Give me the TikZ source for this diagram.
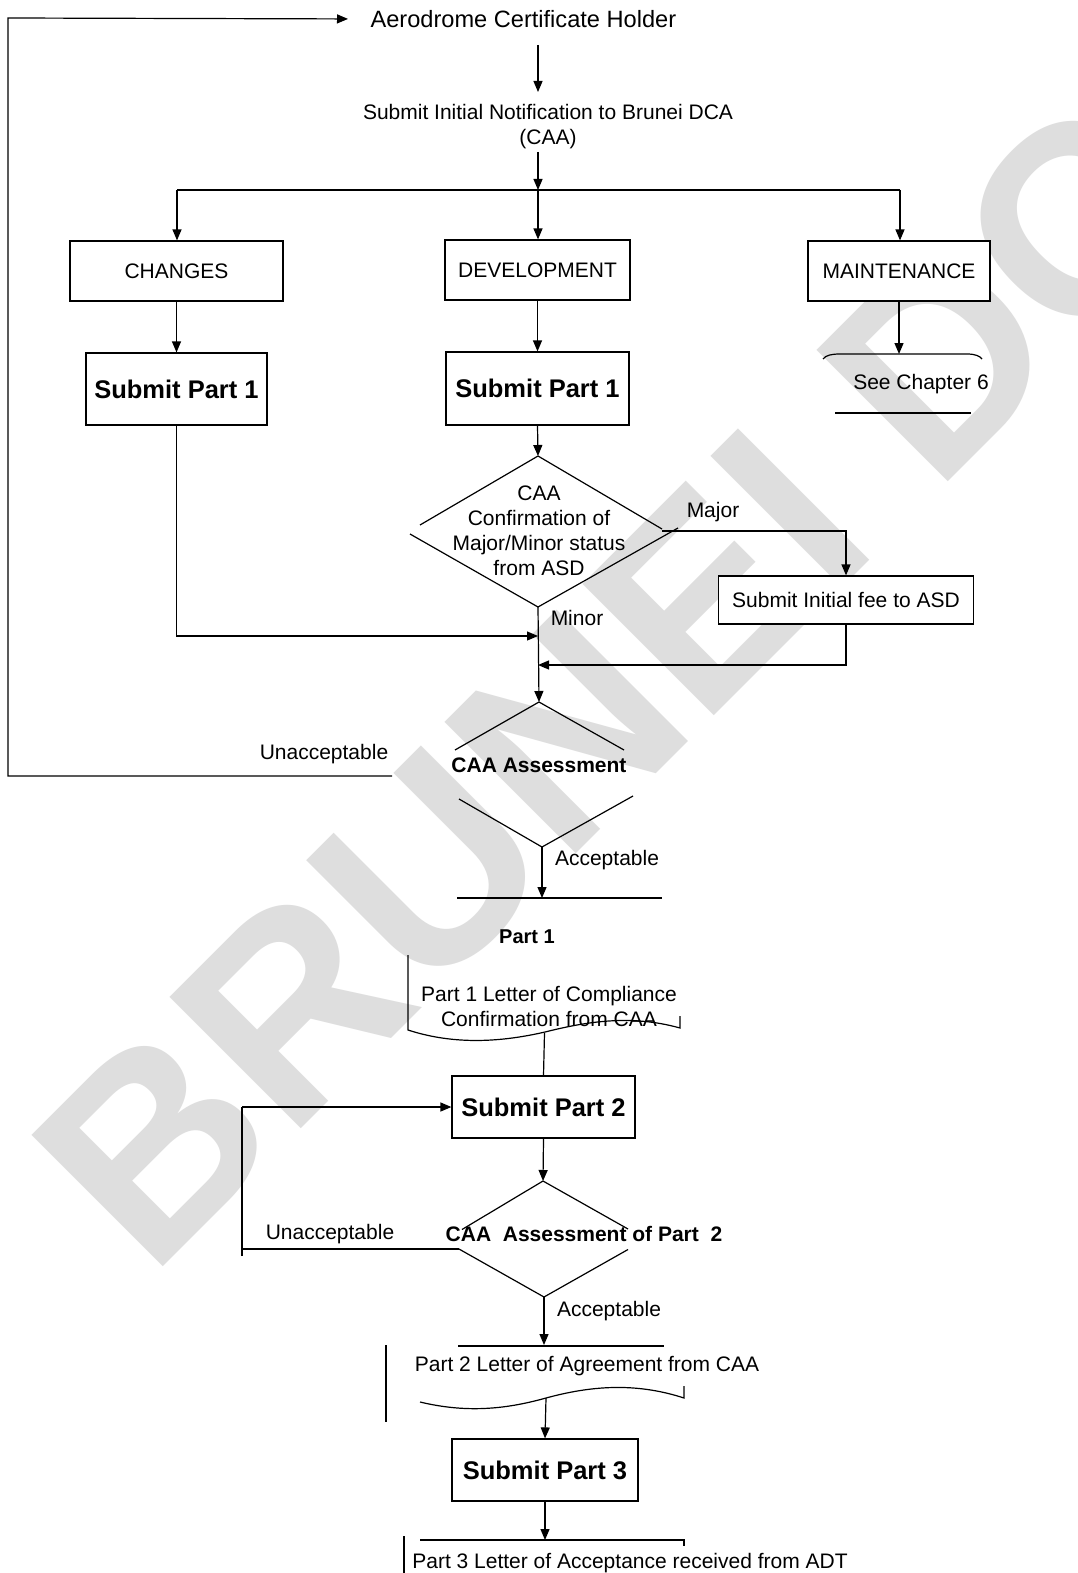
\documentclass[tikz,border=0pt]{standalone}
\usepackage{fontspec}
\setmainfont{Liberation Sans}
\usetikzlibrary{arrows.meta}
\begin{document}
\begin{tikzpicture}[x=1pt,y=-1pt,line width=1.2pt,
 arr/.style={-{Triangle[length=11pt,width=9pt]}},
 box/.style={draw,fill=white,inner sep=0pt,align=center},
 lbl/.style={inner sep=0pt,align=center,font=\fontsize{21}{25}\selectfont},
 blbl/.style={inner sep=0pt,align=center,font=\fontsize{21}{25}\selectfont\bfseries},
 big/.style={inner sep=0pt,align=center,font=\fontsize{25.5}{30}\selectfont\bfseries},
 wm/.style={text=black!13,font=\fontsize{270}{280}\selectfont\bfseries,inner sep=0pt}]
\useasboundingbox (0,0) rectangle (1078,1573);
\fill[white] (0,0) rectangle (1078,1573);
% watermark
\node[wm,rotate=45,anchor=base west] (wmark) at (150,1280) {BRUNEI DCA};

% top
\node[lbl,font=\fontsize{23.6}{27}\selectfont,anchor=west] (ach) at (370,19) {Aerodrome Certificate Holder};
\node[lbl] (sin) at (548,127) {Submit Initial Notification to Brunei DCA\\(CAA)};
\coordinate (a0) at (538,45);
\coordinate (a1) at (538,152);
\coordinate (br) at (538,190);
\coordinate (brl) at (177,190);
\coordinate (brr) at (900,190);
\draw[arr] (a0) -- (538,92);
\draw[arr] (a1) -- (br);
\draw (brl) -- (brr);

% boxes
\node[box,lbl,minimum width=213pt,minimum height=60pt] (chg) at (176.5,271) {CHANGES};
\node[box,lbl,minimum width=185pt,minimum height=60pt] (dev) at (537.5,270) {DEVELOPMENT};
\node[box,lbl,minimum width=182pt,minimum height=60pt] (mnt) at (899,271) {MAINTENANCE};
\draw[arr] (brl) -- (brl |- chg.north);
\draw[arr] (br) -- (br |- dev.north);
\draw[arr] (brr) -- (brr |- mnt.north);

\node[box,big,minimum width=181pt,minimum height=72pt] (spa) at (176.5,389) {Submit Part 1};
\node[box,big,minimum width=183pt,minimum height=73pt] (spb) at (537.5,388.5) {Submit Part 1};
\draw[arr] (chg.south) -- (spa.north);
\draw[arr] (dev.south) -- (spb.north);

% see chapter 6
\node[lbl] (sch) at (921,384) {See Chapter 6};
\coordinate (schtop) at (899,354);
\draw (823,359) .. controls (826,355) and (832,354) .. (840,354) -- (967,354) .. controls (975,354) and (980,356) .. (982,359);
\draw (835,413) -- (971,413);
\draw[arr] (mnt.south) -- (schtop);

% diamond 1
\coordinate (d1t) at (538,456);
\coordinate (d1b) at (538,607);
\draw[arr] (spb.south) -- (d1t);
\draw (d1t) -- (420,525);
\draw (410,534) -- (d1b);
\draw (d1t) -- (662,529);
\draw (d1b) -- (678,528);
\node[lbl,font=\fontsize{21}{25}\selectfont] (d1txt) at (539,531) {CAA\\Confirmation of\\Major/Minor status\\from ASD};
\node[lbl] (major) at (713,512) {Major};
\node[lbl] (minor) at (577,618) {Minor};
\node[box,lbl,minimum width=255pt,minimum height=48pt] (fee) at (846,600) {Submit Initial fee to ASD};
\coordinate (mj) at (662,531);
\draw[arr] (mj) -| (fee.north);
\coordinate (m2) at (538,665);
\draw[arr] (fee.south) |- (m2);
\coordinate (m1) at (538,636);
\draw[arr] (spa.south) |- (m1);

% diamond 2
\coordinate (d2t) at (539,702);
\coordinate (d2b) at (542,847);
\draw[arr] (d1b) -- (d2t);
\draw (d2t) -- (455,750);
\draw (d2t) -- (624,750);
\draw (459,799) -- (d2b);
\draw (633,796) -- (d2b);
\node[blbl] (caa1) at (539,765) {CAA Assessment};
\node[lbl] (un1) at (324,754) {Unacceptable};
\coordinate (ua) at (392,776);
\coordinate (lc) at (8,18);
\draw[arr,shorten >=22pt] (ua) -| (lc) -- (ach.west);
\node[lbl] (ac1) at (607,860) {Acceptable};
\coordinate (p1t) at (542,898);
\draw[arr] (d2b) -- (p1t);
\draw (457,898) -- (662,898);
\node[blbl,font=\fontsize{20}{24}\selectfont\bfseries] (p1) at (527,937) {Part 1};

% doc 1
\draw (408,955) -- (408,1030) .. controls (460,1047) and (510,1040) .. (545,1032) .. controls (585,1022) and (630,1014) .. (680,1028) -- (680,1016);
\node[lbl] (loc) at (549,1006) {Part 1 Letter of Compliance\\Confirmation from CAA};
\coordinate (w1) at (544.5,1033);

% submit part 2
\node[box,big,minimum width=183pt,minimum height=62pt] (sp2) at (543.5,1107) {Submit Part 2};
\draw (w1) -- (sp2.north);
\coordinate (d3t) at (543,1181);
\coordinate (d3b) at (544,1297);
\draw[arr] (sp2.south) -- (d3t);
\draw (d3t) -- (462,1229.5);
\draw (d3t) -- (628,1229);
\draw (459,1249) -- (d3b);
\draw (628,1249.5) -- (d3b);
\node[blbl] (caa2) at (584,1234) {CAA\ \ Assessment of Part\ \ 2};
\node[lbl] (un2) at (330,1234) {Unacceptable};
\coordinate (ub) at (459,1249);
\coordinate (ul) at (242,1249);
\draw[line width=2pt] (ub) -- (ul);
\draw (242,1256) -- (242,1107);
\coordinate (ul2) at (242,1107);
\draw[arr] (ul2) -- (sp2.west);
\node[lbl] (ac2) at (609,1311) {Acceptable};
\coordinate (p2t) at (544,1345);
\draw[arr] (d3b) -- (p2t);

% doc 2
\draw (458,1346) -- (664,1346);
\draw (386,1345) -- (386,1422);
\node[lbl] (loa) at (587,1366) {Part 2 Letter of Agreement from CAA};
\draw (420,1402) .. controls (470,1414) and (510,1408) .. (546,1398) .. controls (590,1386) and (635,1382) .. (684,1398) -- (684,1386);
\coordinate (w2) at (546,1398);
\node[box,big,minimum width=186pt,minimum height=62pt] (sp3) at (545,1470) {Submit Part 3};
\draw[arr] (w2) -- (sp3.north);
\coordinate (p3t) at (545,1540);
\draw[arr] (sp3.south) -- (p3t);
\draw (420,1540) -- (684,1540) -- (684,1546);
\draw (404,1536) -- (404,1580);
\node[lbl] (lac) at (630,1563) {Part 3 Letter of Acceptance received from ADT};
\end{tikzpicture}
\end{document}
